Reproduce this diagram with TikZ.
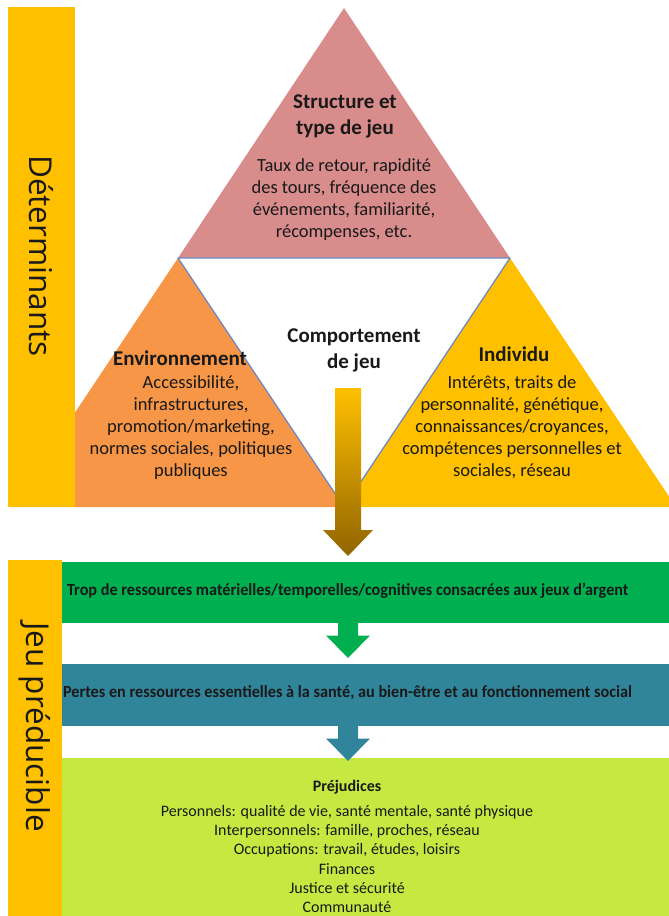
\documentclass[tikz,border=0pt]{standalone}
\usepackage{fontspec}
\setmainfont{Carlito}
\newfontfamily\sidefont{Open Sans}
\usetikzlibrary{calc}

\definecolor{barYellow}{RGB}{255,192,0}
\definecolor{roseTri}{RGB}{217,140,140}
\definecolor{orangeTri}{RGB}{247,150,70}
\definecolor{edgeBlue}{RGB}{110,140,190}
\definecolor{arrowTop}{RGB}{255,192,0}
\definecolor{arrowBot}{RGB}{145,100,0}
\definecolor{boxGreen}{RGB}{0,176,80}
\definecolor{boxTeal}{RGB}{49,133,155}
\definecolor{boxLime}{RGB}{198,233,66}
\definecolor{ink}{RGB}{25,25,25}

\begin{document}
\begin{tikzpicture}[x=1pt,y=-1pt,
  every node/.style={inner sep=0pt, outer sep=0pt, text=ink},
  headtext/.style={font=\fontsize{21}{26}\selectfont\bfseries, align=center},
  bodytext/.style={font=\fontsize{18.5}{22}\selectfont, align=center},
  sidebar/.style={fill=barYellow, draw=none, anchor=north west},
  sidelabel/.style={rotate=-90, font=\sidefont\fontsize{31.5}{36}\selectfont},
  band/.style={draw=none, anchor=north west, minimum width=607pt},
  bandtext/.style={font=\fontsize{17}{20}\selectfont\bfseries, anchor=west},
  harmtext/.style={font=\fontsize{16}{19.2}\selectfont, align=center},
  blockarrow/.pic={\path[pic actions] (-10,0) -- (10,0) -- (10,12.5) -- (22,12.5)
                   -- (0,35) -- (-22,12.5) -- (-10,12.5) -- cycle;},
]
\useasboundingbox (0,0) rectangle (669,916);
\clip (0,0) rectangle (669,916);

% three determinant triangles around the central one
\fill[roseTri]   (344,8)   -- (510,258) -- (178,258) -- cycle;
\fill[orangeTri] (178,258) -- (344,507) -- (12,507)  -- cycle;
\fill[barYellow] (510,258) -- (676,507) -- (344,507) -- cycle;
\draw[edgeBlue, line width=1.3pt, line join=round]
  (178,258) -- (510,258) -- (344,507) -- cycle;

% left side bars
\node[sidebar, minimum width=67pt, minimum height=500pt] (detbar) at (8,7) {};
\node[sidelabel] (detlabel) at (41,256) {Déterminants};

% triangle texts
\node[headtext] (structTitle) at (345,116) {Structure et\\type de jeu};
\node[bodytext] (structBody) at (344,200) {Taux de retour, rapidité\\des tours, fréquence des\\événements, familiarité,\\récompenses, etc.};

\node[headtext] (envTitle) at (180,358) {Environnement};
\node[bodytext] (envBody) at (191,428) {Accessibilité,\\infrastructures,\\promotion/marketing,\\normes sociales, politiques\\publiques};

\node[headtext] (coreLabel) at (354,350) {Comportement\\de jeu};

\node[headtext] (indTitle) at (514,354) {Individu};
\node[bodytext] (indBody) at (512,427) {Intérêts, traits de\\personnalité, génétique,\\connaissances/croyances,\\compétences personnelles et\\sociales, réseau};

% shaded arrow from the behaviour down to the consequences
\coordinate (axis) at (348,0);
\shade[top color=arrowTop, bottom color=arrowBot]
  (335,388) -- (361,388) -- (361,530) -- (373,530) -- (348,556)
  -- (323,530) -- (335,530) -- cycle;

% consequence bands
\node[sidebar, minimum width=54pt, minimum height=356pt] (jeubar) at (8,560) {};
\node[sidelabel] (jeulabel) at (35,727) {Jeu préducible};

\node[band, fill=boxGreen, minimum height=61pt] (bandA) at (62,562) {};
\node[bandtext] (bandAtext) at (67,591) {\scalebox{0.953}[1]{Trop de ressources matérielles/temporelles/cognitives consacrées aux jeux d’argent}};

\node[band, fill=boxTeal, minimum height=62pt] (bandB) at (62,664) {};
\node[bandtext] (bandBtext) at (63,693) {\scalebox{0.955}[1]{Pertes en ressources essentielles à la santé, au bien-être et au fonctionnement social}};

\node[band, fill=boxLime, minimum height=160pt] (bandC) at (62,758) {};

\pic[fill=boxGreen] at (bandA.south -| axis) {blockarrow};
\pic[fill=boxTeal]  at (bandB.south -| axis) {blockarrow};

\node[harmtext, font=\fontsize{16}{19.2}\selectfont\bfseries] (harmTitle) at (347,787) {Préjudices};
\node[harmtext] (harmBody) at (347,859) {Personnels: qualité de vie, santé mentale, santé physique\\Interpersonnels: famille, proches, réseau\\Occupations: travail, études, loisirs\\Finances\\Justice et sécurité\\Communauté};
\end{tikzpicture}
\end{document}
